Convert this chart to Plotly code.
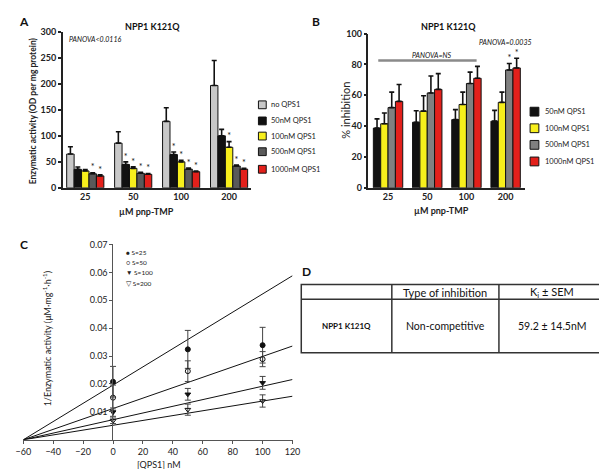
import plotly.graph_objects as go

W, H = 607, 469
FONT = "Lato"

# ---------------- data ----------------
groups = ["25", "50", "100", "200"]

# Panel A: enzymatic activity (OD per mg protein)
a_names = ["no QPS1", "50nM QPS1", "100nM QPS1", "500nM QPS1", "1000nM QPS1"]
a_colors = ["#c8c8c8", "#111111", "#f7ef1c", "#5a5a5a", "#e3201b"]
a_no = [65, 86, 128, 197]
a_no_err = [14, 22, 26, 48]
a_50 = [35.5, 45, 64, 100]
a_50_err = [4.5, 5, 5, 12.5]
a_100 = [32.5, 37.5, 50, 78]
a_100_err = [2.5, 3, 3, 11]
a_500 = [27, 28, 36, 42]
a_500_err = [2, 2, 2, 2]
a_1000 = [23, 26, 31, 36]
a_1000_err = [2, 1.5, 1.5, 1.5]
a_star_no = [False, False, False, False]
a_star_50 = [False, True, True, False]
a_star_100 = [False, True, True, True]
a_star_500 = [True, True, True, True]
a_star_1000 = [True, True, True, True]

# Panel B: % inhibition
b_names = ["50nM QPS1", "100nM QPS1", "500nM QPS1", "1000nM QPS1"]
b_colors = ["#111111", "#f7ef1c", "#808080", "#e3201b"]
b_50 = [38.7, 42.5, 44.2, 43.2]
b_50_err = [6, 7.5, 6.5, 7]
b_100 = [41.5, 49.7, 54, 55.4]
b_100_err = [7, 10, 8, 6.6]
b_500 = [52, 61.5, 67.6, 76.4]
b_500_err = [10, 11, 7.4, 4.2]
b_1000 = [56, 63.8, 71, 77.7]
b_1000_err = [11, 10.2, 7.7, 6.3]
b_star_50 = [False, False, False, False]
b_star_100 = [False, False, False, False]
b_star_500 = [False, False, False, True]
b_star_1000 = [False, False, False, True]

# Panel C: Dixon plot
c_x = [0, 50, 100]
c_names = ["S=25", "S=50", "S=100", "S=200"]
c_symbols = ["circle", "circle-open", "triangle-down", "triangle-down-open"]
c_legend_glyphs = ["\u25CF", "\u25CB", "\u25BC", "\u25BD"]
c_s25 = [0.0208, 0.0324, 0.0339]
c_s25_err = [0.0055, 0.0068, 0.0064]
c_s50 = [0.0151, 0.0246, 0.0289]
c_s50_err = [0.0045, 0.0037, 0.0027]
c_s100 = [0.0099, 0.0163, 0.0204]
c_s100_err = [0.0015, 0.0021, 0.0023]
c_s200 = [0.0068, 0.0108, 0.0139]
c_s200_err = [0.0010, 0.0020, 0.0022]
c_fit_intercepts = [0.0196, 0.0112, 0.0072, 0.0052]
c_fit_xcross = -60
c_fit_xrange = [-60, 120]

# Panel D table
d_header = ["", "Type of inhibition", "K<sub>i</sub> \u00B1 SEM"]
d_row = ["NPP1 K121Q", "Non-competitive", "59.2 \u00B1 14.5nM"]

# ---------------- helpers ----------------
def px(x):
    return x / W

def py(y):
    return 1 - y / H

annotations = []
shapes = []

def ann(text, x, y, size, bold=False, italic=False, xanchor="center",
        yanchor="middle", angle=0, color="#111111"):
    t = text
    if bold:
        t = "<b>" + t + "</b>"
    if italic:
        t = "<i>" + t + "</i>"
    annotations.append(dict(text=t, x=px(x), y=py(y), xref="paper", yref="paper",
                            showarrow=False, xanchor=xanchor, yanchor=yanchor,
                            textangle=angle,
                            font=dict(size=size, color=color, family=FONT)))

def rect(x0, y0, x1, y1, fill, lw=1, lc="#111111"):
    shapes.append(dict(type="rect", xref="paper", yref="paper",
                       x0=px(x0), x1=px(x1), y0=py(y0), y1=py(y1),
                       fillcolor=fill, line=dict(color=lc, width=lw)))

def line(x0, y0, x1, y1, lw=1.3, lc="#333333"):
    shapes.append(dict(type="line", xref="paper", yref="paper",
                       x0=px(x0), x1=px(x1), y0=py(y0), y1=py(y1),
                       line=dict(color=lc, width=lw)))

fig = go.Figure()

# ---------------- Panel A ----------------
a_vals = [a_no, a_50, a_100, a_500, a_1000]
a_errs = [a_no_err, a_50_err, a_100_err, a_500_err, a_1000_err]
a_stars = [a_star_no, a_star_50, a_star_100, a_star_500, a_star_1000]
gx = list(range(len(groups)))
aw = 0.155
for i in range(5):
    off = -2.5 * aw + i * aw
    fig.add_trace(go.Bar(x=gx, y=a_vals[i], width=aw, offset=off,
                         marker=dict(color=a_colors[i], line=dict(color="#111111", width=1)),
                         error_y=dict(type="data", array=a_errs[i], arrayminus=[0] * 4,
                                      symmetric=False, color="#111111", thickness=1.6, width=2.5),
                         xaxis="x", yaxis="y", showlegend=False))
    sx = [g + off + aw / 2 for g, s in zip(gx, a_stars[i]) if s]
    sy = [v + e for v, e, s in zip(a_vals[i], a_errs[i], a_stars[i]) if s]
    if sx:
        fig.add_trace(go.Scatter(x=sx, y=sy, mode="text", text=["*"] * len(sx),
                                 textposition="top center",
                                 textfont=dict(size=9, color="#111111", family=FONT),
                                 xaxis="x", yaxis="y", showlegend=False))

# ---------------- Panel B ----------------
b_vals = [b_50, b_100, b_500, b_1000]
b_errs = [b_50_err, b_100_err, b_500_err, b_1000_err]
b_stars = [b_star_50, b_star_100, b_star_500, b_star_1000]
bw = 0.1875
for i in range(4):
    off = -2 * bw + i * bw
    fig.add_trace(go.Bar(x=gx, y=b_vals[i], width=bw, offset=off,
                         marker=dict(color=b_colors[i], line=dict(color="#111111", width=1)),
                         error_y=dict(type="data", array=b_errs[i], arrayminus=[0] * 4,
                                      symmetric=False, color="#111111", thickness=1.6, width=2.5),
                         xaxis="x2", yaxis="y2", showlegend=False))
    sx = [g + off + bw / 2 for g, s in zip(gx, b_stars[i]) if s]
    sy = [v + e for v, e, s in zip(b_vals[i], b_errs[i], b_stars[i]) if s]
    if sx:
        fig.add_trace(go.Scatter(x=sx, y=sy, mode="text", text=["*"] * len(sx),
                                 textposition="top center",
                                 textfont=dict(size=9, color="#111111", family=FONT),
                                 xaxis="x2", yaxis="y2", showlegend=False))

# ---------------- Panel C ----------------
c_vals = [c_s25, c_s50, c_s100, c_s200]
c_errs = [c_s25_err, c_s50_err, c_s100_err, c_s200_err]
for i in range(4):
    b0 = c_fit_intercepts[i]
    lx = c_fit_xrange
    ly = [b0 * (1 - x / c_fit_xcross) for x in lx]
    fig.add_trace(go.Scatter(x=lx, y=ly, mode="lines", line=dict(color="#111111", width=1),
                             xaxis="x3", yaxis="y3", showlegend=False))
for i in range(4):
    fig.add_trace(go.Scatter(x=c_x, y=c_vals[i], mode="markers",
                             marker=dict(symbol=c_symbols[i], size=5, color="#111111",
                                         line=dict(color="#111111", width=1)),
                             error_y=dict(type="data", array=c_errs[i], color="#444444",
                                          thickness=1, width=3),
                             xaxis="x3", yaxis="y3", showlegend=False))

# ---------------- text: Panel A ----------------
ann("A", 8, 8, 12, bold=True)
ann("NPP1 K121Q", 140, 13, 9, bold=True)
ann("PANOVA<0.0116", 81, 26, 7, italic=True)
ann("Enzymatic activity (OD per mg protein)", 17, 99, 8.5, bold=True, angle=-90, color="#222222")
ann("\u00B5M pnp-TMP", 134, 202, 9, bold=True, color="#222222")
a_leg_y = [93, 109.5, 125, 141, 159]
for i in range(5):
    rect(249, a_leg_y[i] - 4, 257, a_leg_y[i] + 4, a_colors[i], lw=1)
    ann(a_names[i], 260, a_leg_y[i], 7.5, xanchor="left", color="#222222")

# ---------------- text: Panel B ----------------
ann("B", 308, 8, 12, bold=True)
ann("NPP1 K121Q", 444, 13, 9, bold=True)
ann("PANOVA=NS", 427, 42, 7, italic=True)
ann("PANOVA=0.0035", 503, 29, 7, italic=True)
shapes.append(dict(type="line", xref="x2", yref="y2", x0=-0.25, x1=2.26, y0=82.5, y1=82.5,
                   line=dict(color="#8a8a8a", width=2.5)))
ann("% inhibition", 339, 99, 11, angle=-90, color="#222222")
ann("\u00B5M pnp-TMP", 437, 201, 9, bold=True, color="#222222")
b_leg_y = [100, 117, 134, 151]
for i in range(4):
    rect(528, b_leg_y[i] - 4.5, 537, b_leg_y[i] + 4.5, b_colors[i], lw=1)
    ann(b_names[i], 541, b_leg_y[i], 7.5, xanchor="left", color="#222222")

# ---------------- text: Panel C ----------------
ann("C", 8, 236, 12, bold=True)
ann("1/Enzymatic activity (\u03BCM\u00B7mg<sup>-1</sup>\u00B7h<sup>-1</sup>)", 32, 333, 9,
    angle=-90, color="#222222")
ann("[QPS1] nM", 147, 461, 9, color="#222222")
c_leg_y = [244, 254, 265, 275.5]
for i in range(4):
    ann(c_legend_glyphs[i] + " " + c_names[i], 111, c_leg_y[i], 6.5, xanchor="left",
        color="#222222")

# ---------------- Panel D table ----------------
ann("D", 298, 264, 12, bold=True)
tx0, tx1, ty0, ty1, ty_mid = 293, 605, 277, 347, 292
col_div = [386, 496]
rect(tx0, ty0, tx1, ty1, "rgba(0,0,0,0)", lw=1.5, lc="#333333")
line(tx0, ty_mid, tx1, ty_mid, lw=1.5)
for cx in col_div:
    line(cx, ty0, cx, ty1, lw=1.5)
col_centers = [(tx0 + col_div[0]) / 2, (col_div[0] + col_div[1]) / 2, (col_div[1] + tx1) / 2]
for i in range(3):
    if d_header[i]:
        ann(d_header[i], col_centers[i], (ty0 + ty_mid) / 2 + 0.5, 11, color="#111111")
ann(d_row[0], col_centers[0], (ty_mid + ty1) / 2, 8, bold=True)
ann(d_row[1], col_centers[1], (ty_mid + ty1) / 2, 10.5)
ann(d_row[2], col_centers[2], (ty_mid + ty1) / 2, 10.5)

# ---------------- layout ----------------
tick_font = dict(size=9, color="#222222", family=FONT, weight="bold")
axis_common = dict(showgrid=False, zeroline=False, showline=True, linecolor="#222222",
                   linewidth=1.5)

fig.update_layout(
    width=W, height=H, margin=dict(l=0, r=0, t=0, b=0),
    paper_bgcolor="white", plot_bgcolor="white",
    font=dict(family=FONT),
    barmode="overlay",
    annotations=annotations, shapes=shapes,
    xaxis=dict(domain=[px(48), px(241)], range=[-0.47, 3.45], anchor="y",
               tickvals=gx, ticktext=groups, ticks="", tickfont=tick_font, **axis_common),
    yaxis=dict(domain=[py(178), py(18.4)], range=[0, 300], anchor="x",
               tickvals=[0, 50, 100, 150, 200, 250, 300], ticks="outside", ticklen=3,
               tickwidth=1.5, tickcolor="#222222", tickfont=tick_font, **axis_common),
    xaxis2=dict(domain=[px(362), px(523)], range=[-0.5, 3.5], anchor="y2",
                tickvals=gx, ticktext=groups, ticks="", tickfont=tick_font, **axis_common),
    yaxis2=dict(domain=[py(178), py(20)], range=[0, 100], anchor="x2",
                tickvals=[0, 20, 40, 60, 80, 100], ticks="outside", ticklen=3,
                tickwidth=1.5, tickcolor="#222222", tickfont=tick_font, **axis_common),
    xaxis3=dict(domain=[px(7.5), px(284)], range=[-60, 120], anchor="y3",
                tickvals=list(range(-60, 121, 20)), ticks="outside", ticklen=3,
                tickcolor="#555555", tickwidth=1, ticklabeloverflow="allow",
                tickfont=dict(size=9, color="#222222", family=FONT),
                showgrid=False, zeroline=False, showline=True, linecolor="#555555", linewidth=1),
    yaxis3=dict(domain=[py(436), py(236)], range=[0, 0.07], anchor="free",
                position=px(99), tickvals=[0.01, 0.02, 0.03, 0.04, 0.05, 0.06, 0.07],
                tickformat=".2f", ticks="outside", ticklen=3, tickcolor="#555555", tickwidth=1,
                tickfont=dict(size=9, color="#222222", family=FONT),
                showgrid=False, zeroline=False, showline=True, linecolor="#555555", linewidth=1),
)

fig.write_html("out.html")
